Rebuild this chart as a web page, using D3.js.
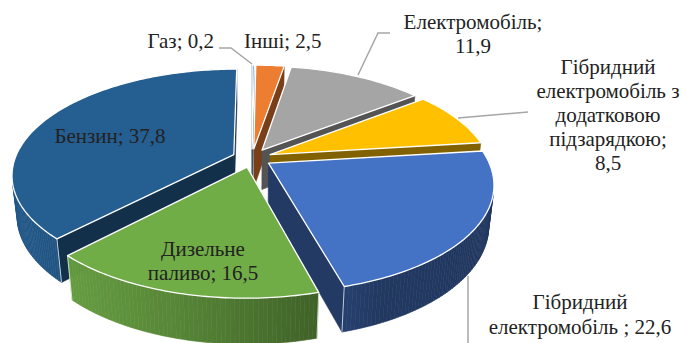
<!DOCTYPE html>
<html>
<head>
<meta charset="utf-8">
<title>Структура ринку за типом палива</title>
<style>
  html, body {
    margin: 0;
    padding: 0;
    background: #fff;
  }
  svg { display: block; }
  .lbl {
    font-family: "Liberation Serif", "Times New Roman", serif;
    font-size: 21px;
    fill: #222;
  }
  .leader {
    fill: none;
    stroke: #a6a6a6;
    stroke-width: 1.5px;
  }
</style>
</head>
<body>
<svg></svg>
<script src="https://d3js.org/d3.v7.min.js"></script>
<script>
  // data, clockwise from 12 o'clock
  const categories = ["Газ", "Інші", "Електромобіль",
    "Гібридний електромобіль з додатковою підзарядкою",
    "Гібридний електромобіль", "Дизельне паливо", "Бензин"];
  const values = [0.2, 2.5, 11.9, 8.5, 22.6, 16.5, 37.8];
  const colors = ["#5B9BD5", "#ED7D31", "#A5A5A5", "#FFC000", "#4472C4", "#70AD47", "#255E91"];
  const labelLines = [
    ["Газ; {v}"],
    ["Інші; {v}"],
    ["Електромобіль;", "{v}"],
    ["Гібридний", "електромобіль з", "додатковою", "підзарядкою;", "{v}"],
    ["Гібридний", "електромобіль ; {v}"],
    ["Дизельне", "паливо; {v}"],
    ["Бензин; {v}"]
  ];

  const width = 686, height = 343;
  const svg = d3.select("svg").attr("width", width).attr("height", height);

  // label placement
  const labelPos = [
    { x: 214, y: 48, anchor: "end", lh: 24, leader: [[219, 48], [231, 48], [252, 64]] },
    { x: 244, y: 48, anchor: "start", lh: 24 },
    { x: 473, y: 29, anchor: "middle", lh: 24, leader: [[390, 33], [378, 33], [358, 75]] },
    { x: 608, y: 74, anchor: "middle", lh: 24, leader: [[528, 112], [458, 118]] },
    { x: 580, y: 309, anchor: "middle", lh: 25, leader: [[468, 276], [468, 343]] },
    { x: 203, y: 256, anchor: "middle", lh: 24 },
    { x: 110, y: 143, anchor: "middle", lh: 24 }
  ];

  // 3d projection of a tilted disc (unit radius)
  const cx = 252, cy = 158;
  const focal = 1030, dist = 4.71, tilt = 28 * Math.PI / 180;
  const thick = 0.21, explode = 0.09;
  const cosT = Math.cos(tilt), sinT = Math.sin(tilt);

  function proj(X, Y, Z) {
    const w = dist + Z * cosT - Y * sinT;
    const v = Z * sinT + Y * cosT;
    return [cx + focal * X / w, cy - focal * v / w, w];
  }

  const arcs = d3.pie().sort(null).value(d => d).startAngle(0).endAngle(2 * Math.PI)(values);

  function area(p) {
    let s = 0;
    for (let i = 0; i < p.length; i++) {
      const a = p[i], b = p[(i + 1) % p.length];
      s += a[0] * b[1] - b[0] * a[1];
    }
    return s;
  }

  const walls = [];
  const tops = [];
  const corners = [];
  const deg = Math.PI / 180;

  arcs.forEach((d, i) => {
    const a0 = d.startAngle, a1 = d.endAngle;
    const mid = (a0 + a1) / 2;
    const ox = explode * Math.sin(mid), oz = explode * Math.cos(mid);
    const P = (a, r, Y) => proj(ox + r * Math.sin(a), Y, oz + r * Math.cos(a));
    const base = d3.color(colors[i]);
    const n = Math.max(1, Math.ceil((a1 - a0) / deg));
    const step = (a1 - a0) / n;

    // outer wall, shaded by the facing direction
    let firstVis = false, lastVis = false;
    for (let k = 0; k < n; k++) {
      const a = a0 + k * step, b = a + step;
      const q = [P(a, 1, 0), P(b, 1, 0), P(b, 1, -thick), P(a, 1, -thick)];
      const vis = area(q) < 0;
      if (k === 0) firstVis = vis;
      if (k === n - 1) lastVis = vis;
      if (!vis) continue;
      const nrm = (a + b) / 2;
      const lit = Math.max(0, Math.cos(nrm - 245 * deg));
      const fill = d3.interpolateRgb(base.darker(2.0), base.darker(0.2))(lit);
      walls.push({ pts: q, depth: d3.mean(q, p => p[2]), fill });
    }
    if (firstVis) corners.push([P(a0, 1, 0), P(a0, 1, -thick)]);
    if (lastVis) corners.push([P(a1, 1, 0), P(a1, 1, -thick)]);

    // radial walls
    const side = base.darker(1.9).formatHex();
    const s0 = [P(a0, 0, 0), P(a0, 1, 0), P(a0, 1, -thick), P(a0, 0, -thick)];
    const s1 = [P(a1, 1, 0), P(a1, 0, 0), P(a1, 0, -thick), P(a1, 1, -thick)];
    [s0, s1].forEach(q => {
      if (area(q) < 0) walls.push({ pts: q, depth: d3.mean(q, p => p[2]), fill: side });
    });

    // top face
    const top = [P(a0, 0, 0)];
    for (let k = 0; k <= n; k++) top.push(P(a0 + k * step, 1, 0));
    tops.push({ pts: top, fill: colors[i] });
  });

  walls.sort((a, b) => b.depth - a.depth);

  const line = d3.line();
  const closed = p => line(p.map(q => [q[0], q[1]])) + "Z";

  svg.append("g").selectAll("path")
    .data(walls)
    .join("path")
    .attr("d", d => closed(d.pts))
    .attr("fill", d => d.fill)
    .attr("stroke", d => d.fill)
    .attr("stroke-width", 0.6);

  svg.append("g").selectAll("path")
    .data(corners)
    .join("path")
    .attr("d", d => line(d.map(q => [q[0], q[1]])))
    .attr("stroke", "rgba(255,255,255,0.7)")
    .attr("stroke-width", 1);

  svg.append("g").selectAll("path")
    .data(tops)
    .join("path")
    .attr("d", d => closed(d.pts))
    .attr("fill", d => d.fill)
    .attr("stroke", "#fff")
    .attr("stroke-width", 1.3)
    .attr("stroke-linejoin", "round");

  // leaders and labels
  const fmt = v => String(v).replace(".", ",");
  labelPos.forEach((lp, i) => {
    if (lp.leader) {
      svg.append("path").attr("class", "leader").attr("d", line(lp.leader));
    }
    const t = svg.append("text")
      .attr("class", "lbl")
      .attr("text-anchor", lp.anchor);
    labelLines[i].forEach((s, j) => {
      t.append("tspan")
        .attr("x", lp.x)
        .attr("y", lp.y + j * lp.lh)
        .text(s.replace("{v}", fmt(values[i])));
    });
  });
</script>
</body>
</html>
